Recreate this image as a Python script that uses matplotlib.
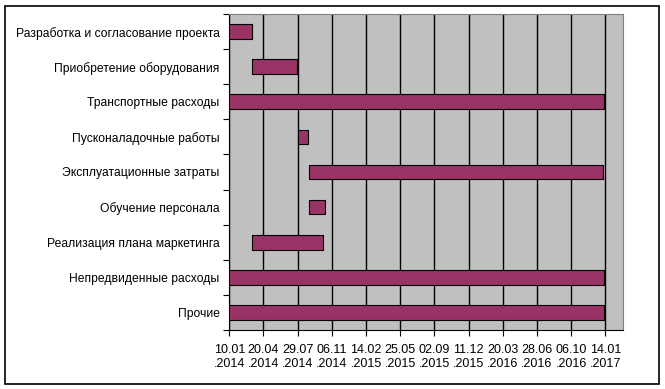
import matplotlib
matplotlib.use("Agg")
import matplotlib.pyplot as plt
import matplotlib.dates as mdates
import pandas as pd
from matplotlib.patches import Rectangle

plt.rcParams['font.family'] = ['Liberation Sans', 'DejaVu Sans']

tasks = [
    "Разработка и согласование проекта",
    "Приобретение оборудования",
    "Транспортные расходы",
    "Пусконаладочные работы",
    "Эксплуатационные затраты",
    "Обучение персонала",
    "Реализация плана маркетинга",
    "Непредвиденные расходы",
    "Прочие",
]
starts = ["2014-01-10", "2014-03-18", "2014-01-10", "2014-07-30", "2014-09-01",
          "2014-09-01", "2014-03-18", "2014-01-10", "2014-01-10"]
ends = ["2014-03-18", "2014-07-27", "2017-01-10", "2014-08-29", "2017-01-07",
        "2014-10-16", "2014-10-12", "2017-01-10", "2017-01-10"]

axis_start = pd.Timestamp("2014-01-10")
tick_dates = pd.date_range(axis_start, periods=12, freq="100D")
axis_end = axis_start + pd.Timedelta(days=1151)

fig = plt.figure(figsize=(6.65, 3.89), dpi=100)
ax = fig.add_axes([229.3/665, 1-330/389, (622.7-229.3)/665, (330-14)/389])
ax.set_facecolor('#C0C0C0')

s = mdates.date2num(pd.to_datetime(starts))
e = mdates.date2num(pd.to_datetime(ends))
y = list(range(len(tasks)))
ax.barh(y, e - s, left=s, height=0.42, color='#993366', edgecolor='black',
        linewidth=0.8, zorder=3)

ax.set_ylim(len(tasks) - 0.5, -0.5)
ax.set_yticks(y)
ax.set_yticklabels(tasks, fontsize=8.75)
ax.set_yticks([i - 0.5 for i in range(len(tasks) + 1)], minor=True)
ax.tick_params(axis='y', which='major', length=0, pad=7)
ax.tick_params(axis='y', which='minor', length=4, width=0.8, direction='out')

ax.set_xlim(mdates.date2num(axis_start), mdates.date2num(axis_end))
ax.set_xticks(mdates.date2num(tick_dates))
ax.set_xticklabels([d.strftime('%d.%m\n.%Y') for d in tick_dates], fontsize=9)
ax.tick_params(axis='x', length=4, width=0.8, direction='out', pad=6)
ax.grid(axis='x', color='black', linewidth=1.0, zorder=1)
ax.set_axisbelow(True)

for side in ['top', 'right']:
    ax.spines[side].set_color('#808080')
    ax.spines[side].set_linewidth(0.8)
for side in ['left', 'bottom']:
    ax.spines[side].set_color('black')
    ax.spines[side].set_linewidth(0.8)

fig.patches.append(Rectangle((5.5/665, 1-384/389), (659-5.5)/665, (384-5.5)/389,
                             transform=fig.transFigure, fill=False,
                             edgecolor='black', linewidth=1.2))

fig.savefig('out.png', dpi=100)
